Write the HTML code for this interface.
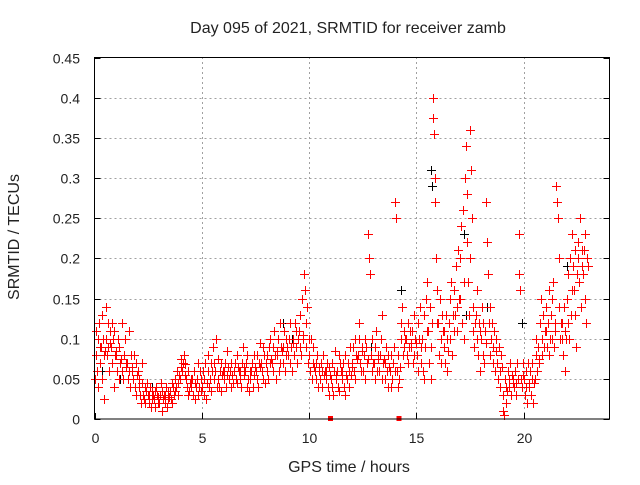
<!DOCTYPE html>
<html><head><meta charset="utf-8">
<style>
body{margin:0;background:#fff;}
svg text{font-family:"Liberation Sans",sans-serif;font-size:14px;fill:#222;}
svg text.big{font-size:16px;}
</style></head>
<body>
<svg id="chart" width="640" height="480" xmlns="http://www.w3.org/2000/svg">
<rect width="640" height="480" fill="#fff"/>
<text class="big" x="348" y="33" text-anchor="middle">Day 095 of 2021, SRMTID for receiver zamb</text>
<text class="big" x="349" y="472" text-anchor="middle">GPS time / hours</text>
<text class="big" x="0" y="0" text-anchor="middle" transform="translate(19,237) rotate(-90)">SRMTID / TECUs</text>
<g id="grid"></g>
<g id="axes"></g>
<g id="marks" shape-rendering="crispEdges"></g>
<rect x="94.5" y="57.5" width="515" height="361.5" fill="none" stroke="#000" stroke-width="1"/>
</svg>
<script>
const xTicks=[0,5,10,15,20];
const yTicks=[0,0.05,0.1,0.15,0.2,0.25,0.3,0.35,0.4,0.45];
const yTickLabels=["0","0.05","0.1","0.15","0.2","0.25","0.3","0.35","0.4","0.45"];
const binTimes=[0,0.25,0.5,0.75,1,1.25,1.5,1.75,2,2.25,2.5,2.75,3,3.25,3.5,3.75,4,4.25,4.5,4.75,5,5.25,5.5,5.75,6,6.25,6.5,6.75,7,7.25,7.5,7.75,8,8.25,8.5,8.75,9,9.25,9.5,9.75,10,10.25,10.5,10.75,11,11.25,11.5,11.75,12,12.25,12.5,12.75,13,13.25,13.5,13.75,14,14.25,14.5,14.75,15,15.25,15.5,15.75,16,16.25,16.5,16.75,17,17.25,17.5,17.75,18,18.25,18.5,18.75,19,19.25,19.5,19.75,20,20.25,20.5,20.75,21,21.25,21.5,21.75,22,22.25,22.5,22.75];
const redValues=[
[0.05,0.08,0.11,0.06,0.1,0.04,0.12,0.09],[0.07,0.09,0.13,0.05,0.1,0.08,0.025,0.085],[0.14,0.1,0.08,0.12,0.09,0.06,0.11,0.095],[0.09,0.12,0.07,0.1,0.04,0.11,0.08,0.085],
[0.08,0.06,0.1,0.05,0.09,0.07,0.075],[0.12,0.06,0.05,0.08,0.1,0.07,0.065],[0.07,0.05,0.11,0.06,0.04,0.08,0.065],[0.06,0.05,0.08,0.04,0.07,0.03,0.055],
[0.06,0.04,0.05,0.03,0.02,0.07,0.045],[0.03,0.025,0.04,0.02,0.035,0.045,0.03],[0.03,0.02,0.04,0.015,0.035,0.025,0.03],[0.025,0.035,0.015,0.04,0.03,0.02,0.028],
[0.02,0.03,0.045,0.01,0.035,0.025,0.03],[0.03,0.02,0.04,0.015,0.035,0.025,0.028],[0.035,0.025,0.045,0.02,0.04,0.03,0.035],[0.05,0.04,0.06,0.03,0.045,0.055,0.05],
[0.065,0.075,0.06,0.07,0.08,0.055,0.068],[0.05,0.04,0.06,0.03,0.035,0.045,0.05],[0.04,0.05,0.03,0.06,0.025,0.045,0.04],[0.05,0.07,0.03,0.04,0.06,0.035,0.05],
[0.04,0.06,0.03,0.05,0.07,0.025,0.045],[0.06,0.08,0.04,0.05,0.07,0.035,0.06],[0.09,0.07,0.05,0.06,0.1,0.04,0.075],[0.05,0.04,0.06,0.07,0.035,0.055,0.06],
[0.06,0.05,0.07,0.04,0.085,0.055,0.065],[0.05,0.06,0.04,0.07,0.055,0.045,0.06],[0.06,0.07,0.05,0.08,0.045,0.065,0.06],[0.05,0.06,0.04,0.07,0.09,0.055,0.065],
[0.06,0.07,0.04,0.08,0.05,0.035,0.06],[0.05,0.06,0.07,0.04,0.08,0.055,0.065],[0.06,0.05,0.08,0.04,0.07,0.095,0.065],[0.07,0.06,0.09,0.05,0.08,0.045,0.07],
[0.06,0.08,0.05,0.09,0.07,0.1,0.075],[0.07,0.09,0.06,0.11,0.08,0.05,0.085],[0.08,0.1,0.06,0.12,0.07,0.09,0.085],[0.09,0.07,0.11,0.06,0.1,0.08,0.09],
[0.08,0.1,0.12,0.07,0.09,0.06,0.095],[0.1,0.08,0.12,0.09,0.11,0.07,0.1],[0.11,0.09,0.13,0.08,0.15,0.1,0.105],[0.18,0.16,0.12,0.09,0.14,0.07,0.1],
[0.08,0.06,0.1,0.05,0.07,0.09,0.065],[0.06,0.07,0.05,0.08,0.04,0.065,0.06],[0.05,0.07,0.06,0.04,0.08,0.055,0.06],[0.06,0.05,0.07,0.04,0.03,0.065,0.055],
[0.05,0.04,0.07,0.03,0.06,0.085,0.055],[0.05,0.06,0.04,0.08,0.035,0.07,0.06],[0.06,0.05,0.07,0.04,0.08,0.03,0.055],[0.05,0.07,0.06,0.04,0.09,0.055,0.065],
[0.07,0.09,0.06,0.1,0.05,0.08,0.075],[0.08,0.1,0.12,0.07,0.06,0.09,0.085],[0.06,0.08,0.1,0.05,0.09,0.07,0.075],[0.23,0.2,0.18,0.08,0.06,0.1,0.07],
[0.07,0.09,0.05,0.11,0.06,0.08,0.075],[0.06,0.08,0.1,0.13,0.05,0.07,0.075],[0.07,0.05,0.09,0.06,0.08,0.04,0.065],[0.06,0.04,0.08,0.05,0.07,0.09,0.06],
[0.27,0.25,0.06,0.04,0.08,0.05,0.065],[0.12,0.1,0.14,0.08,0.11,0.09,0.1],[0.1,0.08,0.12,0.07,0.09,0.11,0.095],[0.09,0.11,0.07,0.13,0.08,0.1,0.095],
[0.08,0.12,0.06,0.1,0.14,0.07,0.09],[0.1,0.06,0.13,0.05,0.09,0.15,0.11],[0.17,0.11,0.07,0.14,0.05,0.09,0.12],[0.4,0.375,0.355,0.3,0.27,0.2,0.16,0.12],
[0.12,0.08,0.15,0.07,0.1,0.13,0.11],[0.09,0.11,0.07,0.13,0.06,0.1,0.085],[0.12,0.15,0.1,0.17,0.08,0.13,0.11],[0.16,0.13,0.19,0.11,0.14,0.21,0.15],
[0.2,0.15,0.24,0.12,0.26,0.1,0.17],[0.3,0.34,0.28,0.22,0.17,0.13,0.2],[0.36,0.31,0.25,0.14,0.11,0.09,0.12],[0.13,0.1,0.16,0.08,0.12,0.06,0.11],
[0.1,0.14,0.08,0.12,0.07,0.11,0.095],[0.27,0.22,0.18,0.12,0.08,0.14,0.1],[0.12,0.09,0.07,0.11,0.06,0.1,0.085],[0.07,0.05,0.09,0.04,0.06,0.08,0.065],
[0.03,0.01,0.005,0.05,0.02,0.04,0.035],[0.06,0.04,0.05,0.07,0.03,0.055,0.045],[0.05,0.04,0.06,0.03,0.045,0.07,0.05],[0.23,0.18,0.16,0.05,0.04,0.07,0.055],
[0.05,0.03,0.06,0.04,0.02,0.07,0.045],[0.04,0.06,0.03,0.05,0.07,0.02,0.045],[0.05,0.08,0.1,0.06,0.09,0.07,0.075],[0.12,0.15,0.1,0.08,0.13,0.09,0.11],
[0.11,0.14,0.09,0.12,0.16,0.08,0.1],[0.13,0.15,0.1,0.17,0.09,0.12,0.11],[0.29,0.27,0.25,0.2,0.14,0.1,0.12],[0.1,0.12,0.08,0.14,0.06,0.11,0.1],
[0.15,0.12,0.18,0.1,0.2,0.13,0.16],[0.23,0.19,0.16,0.21,0.13,0.09,0.18],[0.2,0.22,0.17,0.25,0.14,0.19,0.21],[0.18,0.21,0.15,0.23,0.12,0.2,0.19]
];
const blackTimes=[0.35,1.2,2.7,8.8,9.2,12.9,14.3,15.7,15.75,17.2,17.3,18.3,19.9,20.1,21.3,22.0];
const blackValues=[0.06,0.05,0.04,0.12,0.1,0.09,0.16,0.31,0.29,0.23,0.13,0.14,0.12,0.04,0.15,0.19];
const squareTimes=[11,14.2];
const squareValues=[0,0];

const X0=94.5,X1=609.5,Y0=419,Y1=57.5,XMAX=24,YMAX=0.45;
function xs(t){return X0+(t/XMAX)*(X1-X0);}
function ys(v){return Y0-(v/YMAX)*(Y0-Y1);}
const NS="http://www.w3.org/2000/svg";
const grid=document.getElementById('grid'),axes=document.getElementById('axes'),marks=document.getElementById('marks');
function mk(tag,attrs,parent){const e=document.createElementNS(NS,tag);for(const k in attrs)e.setAttribute(k,attrs[k]);parent.appendChild(e);return e;}

xTicks.forEach((t,i)=>{
  const x=Math.round(xs(t))+0.5;
  if(i>0){const g=mk('line',{x1:x,x2:x,y1:Y0,y2:Y1,stroke:'#a0a0a0','stroke-dasharray':'2,3'},grid);
  
  }
  const tk=mk('line',{x1:x,x2:x,y1:Y0,y2:Y0-6,stroke:'#000'},axes);
  
  
  const tx=mk('text',{x:x,y:443,'text-anchor':'middle'},axes);tx.textContent=String(t);
  
  
});
yTicks.forEach((v,i)=>{
  const y=Math.round(ys(v))+0.5;
  if(i>0&&i<yTicks.length-1){const g=mk('line',{x1:X0,x2:X1,y1:y,y2:y,stroke:'#a0a0a0','stroke-dasharray':'2,3'},grid);
  
  }
  const tk=mk('line',{x1:X0,x2:X0+6,y1:y,y2:y,stroke:'#000'},axes);
  
  
  const tk2=mk('line',{x1:X1,x2:X1-6,y1:y,y2:y,stroke:'#000'},axes);
  
  
  const tx=mk('text',{x:80,y:y+5,'text-anchor':'end'},axes);tx.textContent=yTickLabels[i];
  
  
});
function plus(t,v,color){
  const x=Math.round(xs(t)),y=Math.round(ys(v));
  const h=mk('rect',{x:x-4,y:y,width:9,height:1,fill:color},marks);
  
  
  const vv=mk('rect',{x:x,y:y-4,width:1,height:9,fill:color},marks);
  
  
}
blackTimes.forEach((t,i)=>plus(t,blackValues[i],'black'));
binTimes.forEach((t,i)=>{
  const vals=redValues[i],n=vals.length;
  vals.forEach((v,j)=>plus(t+0.25*(j+0.5)/n,v,'red'));
});
squareTimes.forEach((t,i)=>{
  const x=xs(t),y=ys(squareValues[i]);
  const r=mk('rect',{x:x-2.5,y:y-3,width:5,height:5,fill:'red'},marks);
  
  
});
</script>
</body></html>
